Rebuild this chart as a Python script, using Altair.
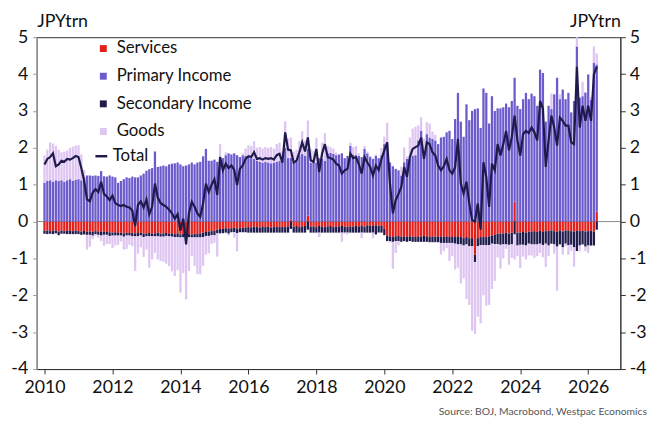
import altair as alt
import pandas as pd

FONT = "Lato"

# Monthly values, Jan 2010 .. Apr 2026 (JPY trn)
primary = [
    1.05, 1.10, 1.12, 1.08, 1.12, 1.10, 1.12, 1.08, 1.12, 1.15, 1.10, 1.13,
    1.15, 1.12, 1.20, 1.25, 1.25, 1.24, 1.25, 1.24, 1.37, 1.23, 1.22, 1.25,
    1.22, 1.20, 1.05, 1.10, 1.15, 1.20, 1.18, 1.22, 1.20, 1.20, 1.25, 1.30,
    1.38, 1.42, 1.45, 1.90, 1.48, 1.50, 1.52, 1.50, 1.55, 1.57, 1.58, 1.60,
    1.55, 1.50, 1.52, 1.55, 1.60, 1.55, 1.60, 1.62, 1.77, 1.97, 1.65, 1.65,
    1.68, 1.62, 1.75, 1.72, 1.80, 1.85, 1.82, 1.85, 1.80, 1.75, 1.80, 1.78,
    1.75, 1.72, 1.70, 1.65, 1.62, 1.60, 1.62, 1.60, 1.58, 1.60, 1.62, 1.64,
    1.70, 2.00, 1.72, 1.68, 1.60, 1.62, 1.80, 1.84, 1.78, 1.82, 1.60, 1.62,
    1.60, 1.72, 1.70, 1.65, 1.85, 1.86, 1.84, 1.80, 1.82, 1.85, 1.72, 1.78,
    2.05, 1.82, 1.80, 1.78, 1.75, 1.97, 1.85, 1.75, 1.70, 1.78, 1.72, 1.80,
    2.10, 2.15, 1.60, 1.50, 1.43, 1.39, 1.25, 1.61, 1.70, 1.70, 1.78, 1.80,
    2.20, 2.46, 1.90, 2.37, 2.28, 2.24, 2.20, 2.10, 2.28, 2.30, 2.42, 2.46,
    2.24, 2.78, 3.49, 2.71, 2.30, 3.18, 2.75, 3.00, 3.05, 3.07, 2.54, 3.61,
    3.49, 2.66, 3.40, 3.00, 3.07, 3.07, 3.10, 3.20, 3.10, 3.27, 3.36, 3.14,
    3.05, 3.32, 3.49, 3.32, 3.47, 3.40, 3.14, 4.12, 4.03, 2.71, 3.14, 3.05,
    3.45, 3.90, 3.32, 3.58, 3.32, 3.49, 2.96, 3.27, 4.75, 3.36, 3.40, 3.50,
    3.99, 3.30, 4.30, 3.99,
]

goods = [
    0.74, 0.85, 1.03, 1.04, 0.93, 0.85, 0.76, 0.82, 0.81, 0.85, 0.93, 0.93,
    0.92, 0.70, 0.20, -0.40, -0.32, -0.10, -0.05, -0.08, -0.15, -0.30, -0.25, -0.22,
    -0.34, -0.27, -0.25, -0.16, -0.35, -0.36, -0.25, -0.27, -0.94, -0.47, -0.32, -0.54,
    -0.36, -0.85, -0.63, -0.45, -0.63, -0.66, -0.68, -0.75, -0.81, -0.94, -1.06, -0.90,
    -1.50, -0.97, -1.67, -0.91, -0.51, -0.77, -1.00, -1.00, -0.78, -0.51, -0.47, -0.24,
    -0.20, -0.63, 0.35, -0.02, 0.08, -0.05, 0.00, -0.15, -0.50, -0.02, 0.05, 0.20,
    0.32, 0.33, 0.48, 0.35, 0.40, 0.38, 0.40, 0.40, 0.44, 0.38, 0.48, 0.50,
    0.20, 0.72, 0.53, 0.55, 0.30, 0.33, 0.38, 0.61, 0.42, 0.76, 0.36, 0.30,
    0.67, -0.12, 0.44, 0.75, 0.20, 0.16, 0.14, 0.07, 0.00, -0.25, -0.03, -0.05,
    0.09, 0.20, 0.25, 0.07, -0.15, 0.08, 0.05, 0.03, -0.15, 0.04, -0.02, 0.20,
    0.20, 0.53, -0.04, -0.73, -0.32, -0.11, 0.24, 0.40, 0.06, 0.58, 0.74, 0.77,
    0.41, 0.37, 0.35, 0.33, 0.38, 0.20, 0.15, -0.02, -0.31, -0.22, -0.14, -0.49,
    -0.36, -0.70, -0.63, -1.06, -0.89, -1.48, -1.59, -2.29, -1.95, -1.91, -2.12, -1.36,
    -1.64, -1.62, -1.23, -1.00, -0.36, -0.65, -0.38, -0.12, -0.54, -0.37, -0.68, -0.29,
    -0.63, -0.32, -0.38, -0.32, -0.30, -0.36, -0.32, -0.25, -0.33, -0.63, -0.29, 0.42,
    -0.25, -1.19, 0.13, -0.20, -0.07, -0.26, -0.16, -0.52, 0.25, -0.16, 0.39, -0.12,
    -0.20, 0.08, 0.45, 0.30,
]

services = [
    -0.25, -0.24, -0.26, -0.25, -0.24, -0.27, -0.25, -0.26, -0.25, -0.24, -0.26, -0.25,
    -0.26, -0.27, -0.25, -0.28, -0.27, -0.28, -0.26, -0.27, -0.28, -0.27, -0.28, -0.29,
    -0.30, -0.29, -0.31, -0.30, -0.32, -0.30, -0.31, -0.30, -0.32, -0.31, -0.30, -0.33,
    -0.32, -0.31, -0.33, -0.32, -0.30, -0.33, -0.32, -0.31, -0.33, -0.32, -0.34, -0.32,
    -0.35, -0.33, -0.36, -0.34, -0.35, -0.33, -0.34, -0.32, -0.30, -0.28, -0.27, -0.26,
    -0.25, -0.22, -0.20, -0.20, -0.18, -0.20, -0.18, -0.17, -0.19, -0.18, -0.17, -0.16,
    -0.15, -0.16, -0.14, -0.15, -0.16, -0.13, -0.15, -0.14, -0.16, -0.15, -0.14, -0.15,
    -0.14, -0.15, -0.13, 0.05, -0.14, -0.12, -0.15, -0.13, -0.12, 0.16, -0.14, -0.13,
    -0.15, -0.12, -0.14, -0.15, -0.13, -0.12, -0.15, -0.14, -0.13, -0.12, -0.14, -0.15,
    -0.13, -0.14, -0.12, -0.13, -0.12, -0.14, -0.10, -0.11, -0.12, -0.10, -0.11, -0.12,
    -0.20, -0.38, -0.40, -0.42, -0.40, -0.39, -0.41, -0.40, -0.42, -0.40, -0.41, -0.42,
    -0.40, -0.41, -0.39, -0.40, -0.42, -0.40, -0.41, -0.40, -0.42, -0.41, -0.40, -0.42,
    -0.40, -0.42, -0.40, -0.42, -0.45, -0.42, -0.45, -0.45, -0.90, -0.45, -0.42, -0.42,
    -0.42, -0.40, -0.38, -0.36, -0.33, -0.33, -0.32, -0.30, -0.33, -0.30, 0.54, -0.30,
    -0.30, -0.28, -0.30, -0.27, -0.28, -0.26, -0.28, -0.25, -0.28, -0.26, -0.25, -0.24,
    -0.26, -0.28, -0.24, -0.27, -0.25, -0.24, -0.26, -0.27, -0.25, -0.26, -0.25, -0.27,
    -0.26, -0.25, -0.27, 0.27,
]

secondary = [
    -0.08, -0.10, -0.07, -0.09, -0.08, -0.10, -0.08, -0.07, -0.09, -0.10, -0.08, -0.09,
    -0.08, -0.09, -0.10, -0.08, -0.09, -0.10, -0.08, -0.09, -0.10, -0.09, -0.08, -0.10,
    -0.08, -0.09, -0.07, -0.08, -0.09, -0.08, -0.07, -0.10, -0.08, -0.09, -0.08, -0.09,
    -0.08, -0.09, -0.07, -0.08, -0.10, -0.08, -0.09, -0.08, -0.07, -0.09, -0.08, -0.10,
    -0.08, -0.10, -0.08, -0.09, -0.08, -0.10, -0.09, -0.11, -0.12, -0.11, -0.12, -0.11,
    -0.12, -0.10, -0.12, -0.11, -0.12, -0.13, -0.11, -0.12, -0.12, -0.11, -0.12, -0.13,
    -0.15, -0.14, -0.16, -0.15, -0.14, -0.17, -0.15, -0.16, -0.14, -0.15, -0.16, -0.15,
    -0.16, -0.15, -0.17, -0.20, -0.16, -0.18, -0.15, -0.17, -0.18, -0.22, -0.16, -0.17,
    -0.15, -0.18, -0.16, -0.15, -0.17, -0.18, -0.15, -0.16, -0.17, -0.18, -0.16, -0.15,
    -0.17, -0.16, -0.18, -0.17, -0.18, -0.16, -0.20, -0.19, -0.18, -0.25, -0.19, -0.18,
    -0.17, -0.15, -0.13, -0.13, -0.13, -0.14, -0.14, -0.13, -0.13, -0.13, -0.14, -0.13,
    -0.15, -0.14, -0.16, -0.15, -0.14, -0.16, -0.15, -0.16, -0.16, -0.17, -0.18, -0.16,
    -0.18, -0.18, -0.22, -0.20, -0.20, -0.20, -0.22, -0.22, -0.20, -0.22, -0.22, -0.22,
    -0.22, -0.24, -0.22, -0.25, -0.28, -0.30, -0.30, -0.32, -0.30, -0.32, -0.35, -0.35,
    -0.33, -0.35, -0.35, -0.33, -0.34, -0.36, -0.34, -0.35, -0.36, -0.34, -0.40, -0.36,
    -0.36, -0.40, -0.38, -0.43, -0.35, -0.40, -0.37, -0.43, -0.55, -0.39, -0.37, -0.41,
    -0.39, -0.40, -0.38, -0.22,
]

total = [
    1.55, 1.70, 1.75, 1.85, 1.50, 1.55, 1.65, 1.62, 1.70, 1.68, 1.72, 1.78,
    1.75, 1.45, 1.10, 0.60, 0.55, 0.78, 0.88, 0.80, 1.08, 0.75, 0.68, 0.58,
    0.70, 0.50, 0.45, 0.42, 0.45, 0.40, 0.38, 0.30, -0.12, 0.45, 0.55, 0.38,
    0.60, 0.20, 0.40, 1.03, 0.65, 0.50, 0.45, 0.40, 0.32, 0.22, 0.08, 0.20,
    -0.25, 0.08, -0.62, 0.22, 0.54, 0.40, 0.22, 0.13, 0.49, 1.03, 0.80, 1.00,
    1.15, 0.72, 1.75, 1.39, 1.57, 1.45, 1.52, 1.40, 0.99, 1.43, 1.52, 1.70,
    1.77, 1.75, 1.88, 1.70, 1.72, 1.68, 1.72, 1.70, 1.72, 1.68, 1.80, 1.84,
    1.60, 2.42, 1.95, 1.93, 1.60, 1.65, 1.88, 2.15, 1.90, 2.28, 1.66, 1.62,
    1.97, 1.34, 1.84, 2.10, 1.75, 1.72, 1.68, 1.57, 1.52, 1.30, 1.39, 1.43,
    1.84, 1.72, 1.75, 1.55, 1.30, 1.75, 1.60, 1.48, 1.25, 1.52, 1.40, 1.70,
    1.93, 2.15, 1.03, 0.22, 0.58, 0.75, 0.94, 1.48, 1.21, 1.75, 1.97, 2.02,
    2.06, 2.28, 1.70, 2.15, 2.10, 1.88, 1.79, 1.52, 1.39, 1.50, 1.70, 1.39,
    1.30, 1.48, 2.24, 1.03, 0.76, 1.08, 0.49, 0.04, 0.00, 0.49, -0.22, 1.61,
    1.21, 0.40, 1.57, 1.39, 2.10, 1.79, 2.10, 2.46, 1.93, 2.28, 2.87, 2.20,
    1.79, 2.37, 2.46, 2.40, 2.55, 2.42, 2.20, 3.27, 3.06, 1.48, 2.20, 2.87,
    2.55, 2.06, 2.82, 2.73, 2.60, 2.60, 2.15, 2.10, 4.20, 2.55, 3.14, 2.73,
    3.14, 2.73, 3.99, 4.20,
]

components = ["Services", "Primary Income", "Secondary Income", "Goods"]
comp_colors = ["#e3201b", "#6b5bcc", "#1f1c4d", "#dfc5f2"]
line_color = "#1e1b4b"
x_ticks = [2010, 2012, 2014, 2016, 2018, 2020, 2022, 2024, 2026]
y_ticks = [-4, -3, -2, -1, 0, 1, 2, 3, 4, 5]
source_text = "Source: BOJ, Macrobond, Westpac Economics"

n = len(total)
months = pd.period_range("2010-01", periods=n, freq="M")
tpos = [p.year + (p.month - 1) / 12 for p in months]

rows = []
for k, (name, arr) in enumerate(zip(components, [services, primary, secondary, goods])):
    for i in range(n):
        rows.append({"t": tpos[i], "component": name, "value": arr[i], "ord": k})
bars_df = pd.DataFrame(rows)
line_df = pd.DataFrame({"t": tpos, "total": total, "series": ["Total"] * n})
zero_df = pd.DataFrame({"z": [0]})
src_df = pd.DataFrame({"s": [source_text]})

x_scale = alt.Scale(domain=[2009.914, 2026.8], nice=False, zero=False)
y_scale = alt.Scale(domain=[-4, 5], nice=False, zero=False)

x_axis = alt.Axis(values=x_ticks, format="d", title=None, grid=False,
                  tickSize=5, labelPadding=5, labelFontSize=18, labelFont=FONT,
                  labelColor="#111", domainColor="#333", tickColor="#333",
                  labelFlush=False)

left_axis = alt.Axis(orient="left", values=y_ticks, labelExpr="'' + datum.value",
                     grid=False, tickSize=4, labelPadding=5, labelFontSize=18,
                     labelFont=FONT, labelColor="#111",
                     domainColor="#9a9a9a", tickColor="#9a9a9a",
                     title="JPYtrn", titleAngle=0, titleX=0, titleY=-11,
                     titleAlign="left", titleBaseline="alphabetic",
                     titleFont=FONT, titleFontSize=18, titleFontWeight="normal",
                     titleColor="#111")

right_axis = alt.Axis(orient="right", values=y_ticks, labelExpr="'' + datum.value",
                      grid=False, tickSize=5, labelPadding=4, labelFontSize=18,
                      labelFont=FONT, labelColor="#111",
                      domainColor="#333", tickColor="#333",
                      title="JPYtrn", titleAngle=0, titleX=0, titleY=-11,
                      titleAlign="right", titleBaseline="alphabetic",
                      titleFont=FONT, titleFontSize=18, titleFontWeight="normal",
                      titleColor="#111")

zero = alt.Chart(zero_df).mark_rule(color="#8a8a8a", strokeWidth=1).encode(
    y=alt.Y("z:Q", scale=y_scale, axis=None)
)

bars = alt.Chart(bars_df).mark_bar(size=2.3, orient="vertical").encode(
    x=alt.X("t:Q", scale=x_scale, axis=x_axis),
    y=alt.Y("value:Q", scale=y_scale, stack="zero", axis=left_axis),
    color=alt.Color("component:N",
                    scale=alt.Scale(domain=components, range=comp_colors),
                    legend=alt.Legend(orient="none", legendX=59, legendY=3,
                                      title=None, symbolType="square",
                                      symbolSize=49, symbolStrokeWidth=0,
                                      labelFont=FONT, labelFontSize=17,
                                      labelColor="#111", rowPadding=10,
                                      labelOffset=5, padding=0)),
    order=alt.Order("ord:Q"),
)

line = alt.Chart(line_df).mark_line(strokeWidth=2.2).encode(
    x=alt.X("t:Q", scale=x_scale, axis=x_axis),
    y=alt.Y("total:Q", scale=y_scale, axis=right_axis),
    stroke=alt.Stroke("series:N",
                      scale=alt.Scale(domain=["Total"], range=[line_color]),
                      legend=alt.Legend(orient="none", legendX=57, legendY=112,
                                        title=None, symbolType="stroke",
                                        symbolSize=144, symbolStrokeWidth=2.5,
                                        labelFont=FONT, labelFontSize=17,
                                        labelColor="#111", labelOffset=3,
                                        padding=0)),
)

src = alt.Chart(src_df).mark_text(align="right", baseline="middle", fontSize=10.5,
                                  font=FONT, color="#555").encode(
    text="s:N", x=alt.value(618), y=alt.value(380)
)

chart = alt.layer(zero, bars, line, src).resolve_axis(y="independent").properties(
    width=591, height=336,
    autosize=alt.AutoSizeParams(type="none"),
    padding={"left": 29, "top": 27, "right": 29, "bottom": 48},
).configure_view(stroke="#333", strokeWidth=1)

chart.save("out.html", embed_options={"renderer": "svg", "actions": False})
